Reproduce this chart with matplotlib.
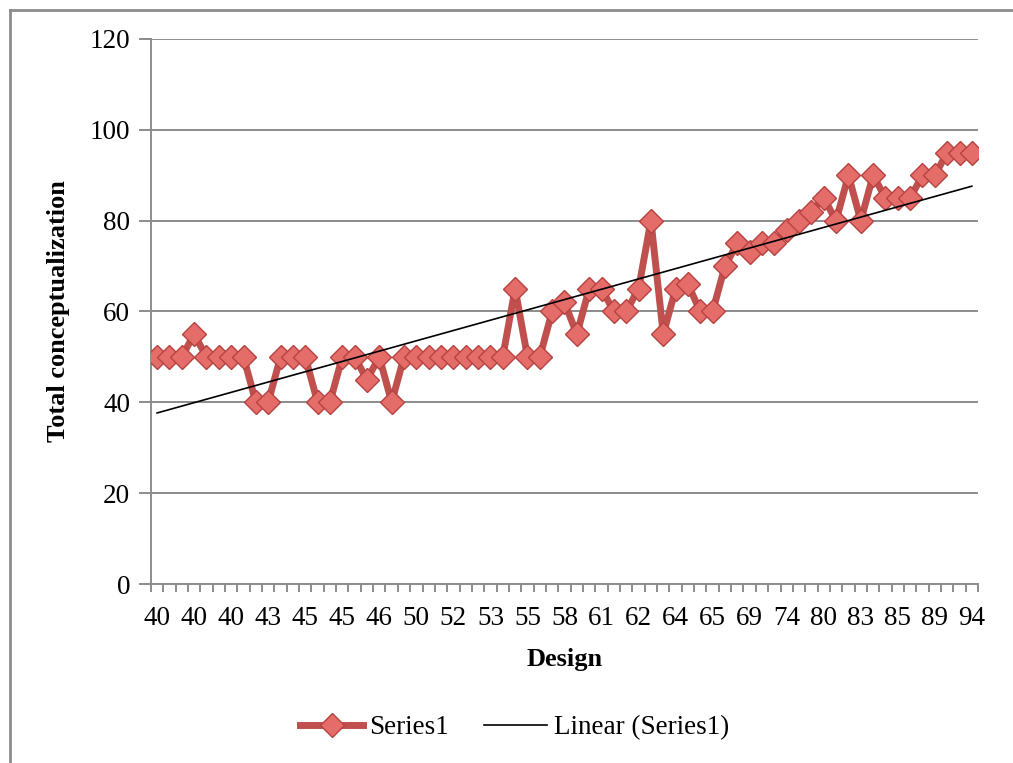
import numpy as np
import matplotlib
matplotlib.use("Agg")
import matplotlib.pyplot as plt
from matplotlib.lines import Line2D

# total conceptualization per design
values = [50, 50, 50, 55, 50, 50, 50, 50, 40, 40,
          50, 50, 50, 40, 40, 50, 50, 45, 50, 40,
          50, 50, 50, 50, 50, 50, 50, 50, 50, 65,
          50, 50, 60, 62, 55, 65, 65, 60, 60, 65,
          80, 55, 65, 66, 60, 60, 70, 75, 73, 75,
          75, 78, 80, 82, 85, 80, 90, 80, 90, 85,
          85, 85, 90, 90, 95, 95, 95]
# only every third category label is shown on the axis
tick_labels = ["40", "40", "40", "43", "45", "45", "46", "50", "52", "53", "55", "58",
               "61", "62", "64", "65", "69", "74", "80", "83", "85", "89", "94"]
label_step = 3

plt.rcParams['font.family'] = ['Liberation Serif', 'DejaVu Serif']

fig = plt.figure(figsize=(10.13, 7.63), dpi=100)
ax = fig.add_axes([0.149, 0.2346, 0.8165, 0.7143])

x = np.arange(len(values))
red = "#C0504D"
mfc, mec = "#E46C69", "#B6423F"
ax.plot(x, values, color=red, lw=5, marker="D", ms=12.5,
        mfc=mfc, mec=mec, mew=1, zorder=3, solid_joinstyle="round")

# Excel style linear trendline (fit on 1..n)
k, b = np.polyfit(x + 1, values, 1)
ax.plot(x, k * (x + 1) + b, color="black", lw=1.2, zorder=4)

grid = "#8c8c8c"
ax.set_xlim(-0.5, len(values) - 0.5)
ax.set_ylim(0, 120)
ax.set_yticks(range(0, 121, 20))
ax.yaxis.grid(True, color=grid, lw=1.4)
ax.set_axisbelow(True)

ax.set_xticks(x[::label_step])
ax.set_xticklabels(tick_labels)
ax.set_xticks(np.arange(-0.5, len(values)), minor=True)
ax.tick_params(axis="x", which="major", length=0, pad=16, labelsize=19.5)
ax.tick_params(axis="x", which="minor", length=6, width=1.4, color=grid)
ax.tick_params(axis="y", length=9, width=1.4, color=grid, pad=6, labelsize=19.5)

for s in ["top", "right"]:
    ax.spines[s].set_visible(False)
for s in ["left", "bottom"]:
    ax.spines[s].set_color(grid)
    ax.spines[s].set_linewidth(1.4)

ax.set_xlabel("Design", fontsize=19, fontweight="bold", labelpad=12)
ax.set_ylabel("Total conceptualization", fontsize=19, fontweight="bold", labelpad=14)

handles = [Line2D([], [], color=red, lw=5, marker="D", ms=12.5, mfc=mfc, mec=mec),
           Line2D([], [], color="black", lw=1.2)]
fig.legend(handles, ["Series1", "Linear (Series1)"], loc="center", bbox_to_anchor=(0.508, 0.046),
           ncol=2, frameon=False, fontsize=19.5, handlelength=2.3, handletextpad=0.25,
           columnspacing=1.3)

# chart area border (only left and top edges are visible)
fig.add_artist(Line2D([0.0099, 0.0099], [0, 0.9869], color=grid, lw=2, transform=fig.transFigure))
fig.add_artist(Line2D([0.0099, 1], [0.9869, 0.9869], color=grid, lw=2, transform=fig.transFigure))

fig.savefig("out.png", dpi=100)
